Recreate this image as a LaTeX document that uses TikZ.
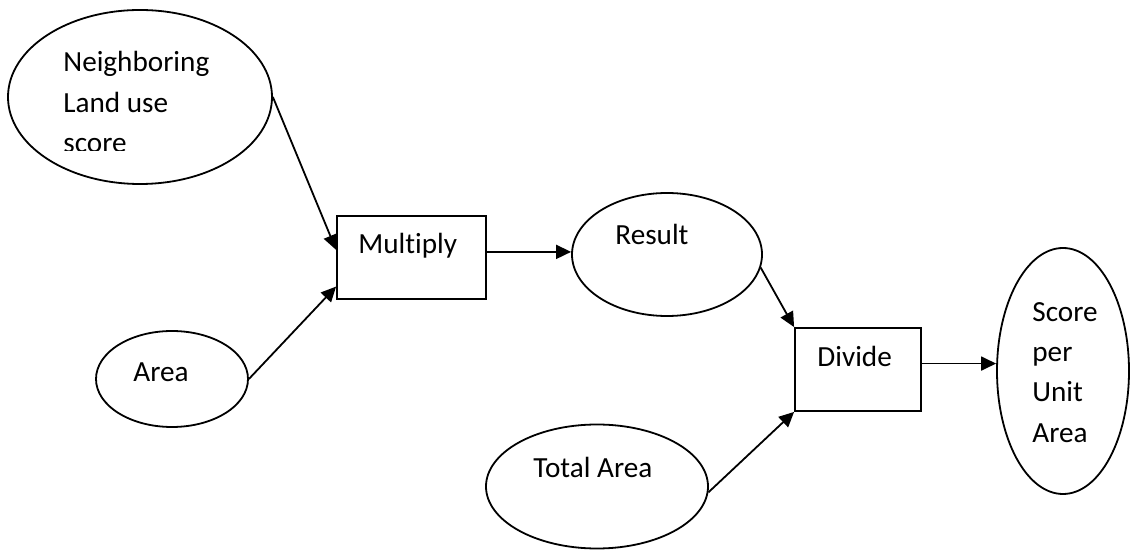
\documentclass[tikz,border=0pt]{standalone}
\usepackage{fontspec}
\setmainfont{Carlito}[Ligatures=NoCommon]
\usetikzlibrary{arrows.meta,shapes.geometric,calc}
\begin{document}
\begin{tikzpicture}[x=0.5pt,y=-0.5pt,
  oval/.style={draw, ellipse, inner sep=0pt, line width=0.9pt},
  opbox/.style={draw, rectangle, inner sep=0pt, line width=0.9pt},
  lbl/.style={anchor=base west, inner sep=0pt, font=\fontsize{14.6pt}{17pt}\selectfont},
  conn/.style={-{Triangle[length=7.5pt,width=7pt]}, line width=0.9pt}]
\useasboundingbox (0,0) rectangle (1130,550);
% shapes
\node[oval, minimum width=132pt, minimum height=87pt] (nlu) at (140,97) {};
\node[oval, minimum width=95pt, minimum height=61.5pt] (res) at (667,254.5) {};
\node[oval, minimum width=76pt, minimum height=48pt] (area) at (172,379) {};
\node[oval, minimum width=111pt, minimum height=62pt] (tot) at (597,486.5) {};
\node[oval, minimum width=66pt, minimum height=123pt] (sc) at (1063,371) {};
\node[opbox, minimum width=74.5pt, minimum height=41.5pt] (mul) at (411.5,257.5) {};
\node[opbox, minimum width=63pt, minimum height=41.5pt] (div) at (858,369.5) {};
% labels
\node[lbl] (t1) at (63,72) {Neighboring};
\node[lbl] (t2) at (63,113) {Land use};
\begin{scope}
\clip (0,0) rectangle (300,150.5);
\node[lbl] (t3) at (63,153) {score};
\end{scope}
\node[lbl] (tm) at (358,254) {Multiply};
\node[lbl] (tr) at (615,245) {Result};
\node[lbl] (ta) at (133,382) {Area};
\node[lbl] (tt) at (533,478) {Total Area};
\node[lbl] (td) at (817,367) {Divide};
\node[lbl] (s1) at (1032,322) {Score};
\node[lbl] (s2) at (1032,362) {per};
\node[lbl] (s3) at (1032,402) {Unit};
\node[lbl] (s4) at (1032,443) {Area};
% connectors
\draw[conn] (nlu.east) -- ($(mul.north west)!0.41!(mul.south west)$);
\draw[conn] (area.east) -- ($(mul.north west)!0.843!(mul.south west)$);
\coordinate (m1) at ($(mul.north east)!0.434!(mul.south east)$);
\draw[conn] (m1) -- (m1 -| res.west);
\draw[conn] (res.-8) -- (div.north west);
\draw[conn] (tot.-3) -- (div.south west);
\coordinate (d1) at ($(div.north east)!0.43!(div.south east)$);
\draw[conn] (d1) -- (d1 -| sc.west);
\end{tikzpicture}
\end{document}
